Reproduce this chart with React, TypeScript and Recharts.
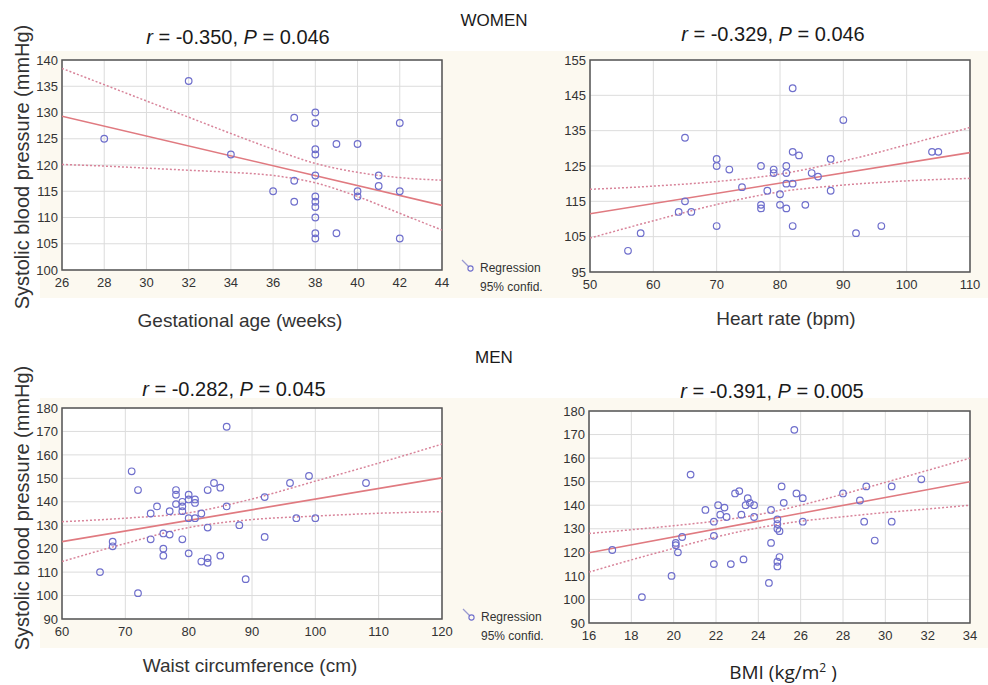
import React from 'react';
import { ComposedChart, Scatter, Line, XAxis, YAxis, CartesianGrid, ReferenceArea } from 'recharts';

// WOMEN – gestational age (weeks) vs SBP
const gaX = [28, 32, 34, 36, 37, 37, 37, 38, 38, 38, 38, 38, 38, 38, 38, 38, 38, 38, 39, 39, 40, 40, 40, 41, 41, 42, 42, 42];
const gaY = [125, 136, 122, 115, 129, 117, 113, 130, 128, 123, 122, 118, 114, 113, 112, 110, 107, 106, 124, 107, 124, 115, 114, 118, 116, 128, 115, 106];
const gaFitX = [26, 44];
const gaFitY = [129.3, 112.3];
const gaBandX = [26, 28, 30, 32, 34, 36, 38, 40, 42, 44];
const gaUpper = [138.4, 135.3, 132.2, 129.1, 126.0, 123.0, 120.3, 118.6, 117.6, 117.1];
const gaLower = [120.1, 119.8, 119.4, 119.0, 118.6, 118.0, 116.6, 114.0, 110.8, 107.6];

// WOMEN – heart rate (bpm) vs SBP
const hrX = [56, 58, 64, 65, 65, 66, 70, 70, 70, 72, 74, 77, 77, 77, 78, 79, 79, 80, 80, 81, 81, 81, 81, 82, 82, 82, 82, 83, 84, 85, 86, 88, 88, 90, 92, 96, 104, 105];
const hrY = [101, 106, 112, 133, 115, 112, 127, 125, 108, 124, 119, 125, 114, 113, 118, 124, 123, 117, 114, 125, 123, 120, 113, 147, 129, 120, 108, 128, 114, 123, 122, 127, 118, 138, 106, 108, 129, 129];
const hrFitX = [50, 110];
const hrFitY = [111.5, 128.8];
const hrBandX = [50, 60, 70, 80, 90, 100, 110];
const hrUpper = [118.4, 119.3, 120.6, 122.7, 126.4, 131.0, 135.9];
const hrLower = [104.6, 109.5, 114.1, 117.7, 119.6, 120.8, 121.5];

// MEN – waist circumference (cm) vs SBP
const wcX = [66, 68, 68, 71, 72, 72, 74, 74, 75, 76, 76, 76, 77, 77, 78, 78, 78, 79, 79, 79, 79, 80, 80, 80, 80, 81, 81, 81, 82, 82, 83, 83, 83, 83, 84, 85, 85, 86, 86, 88, 89, 92, 92, 96, 97, 99, 100, 108];
const wcY = [110, 123, 121, 153, 145, 101, 135, 124, 138, 126.5, 120, 117, 136, 126, 145, 143, 139, 140, 138, 136, 124, 143, 141, 133, 118, 141, 139.5, 133, 135, 114.5, 145, 129, 116, 114, 148, 146, 117, 172, 138, 130, 107, 142, 125, 148, 133, 151, 133, 148];
const wcFitX = [60, 120];
const wcFitY = [123.0, 150.2];
const wcBandX = [60, 70, 80, 90, 100, 110, 120];
const wcUpper = [131.5, 133.0, 135.3, 141.2, 148.8, 156.5, 164.6];
const wcLower = [114.5, 122.2, 129.0, 132.4, 133.9, 135.1, 135.8];

// MEN – BMI (kg/m2) vs SBP
const bmiX = [17.1, 18.5, 19.9, 20.1, 20.1, 20.2, 20.4, 20.8, 21.5, 21.9, 21.9, 21.9, 22.1, 22.2, 22.4, 22.5, 22.7, 22.9, 23.1, 23.2, 23.3, 23.4, 23.5, 23.6, 23.8, 23.8, 24.6, 24.6, 24.5, 24.9, 24.9, 24.9, 25.0, 25.0, 24.9, 24.9, 25.1, 25.2, 25.7, 25.8, 26.1, 26.1, 28.0, 28.8, 29.0, 29.1, 29.5, 30.3, 30.3, 31.7];
const bmiY = [121, 101, 110, 124, 123, 120, 126.5, 153, 138, 133, 127, 115, 140, 136, 139, 135, 115, 145, 146, 136, 117, 140, 143, 141, 140, 135, 138, 124, 107, 134, 132, 130, 129, 118, 116, 114, 148, 141, 172, 145, 143, 133, 145, 142, 133, 148, 125, 148, 133, 151];
const bmiFitX = [16, 34];
const bmiFitY = [119.8, 150.0];
const bmiBandX = [16, 18, 20, 22, 24, 26, 28, 30, 32, 34];
const bmiUpper = [128.0, 129.6, 131.3, 133.3, 136.0, 140.0, 144.7, 149.7, 154.8, 160.0];
const bmiLower = [111.6, 116.8, 121.7, 126.5, 130.4, 133.2, 135.1, 136.9, 138.4, 140.0];

const zip = (xs: number[], ys: number[]) => xs.map((x, i) => ({ x, y: ys[i] }));

const FONT = '"Liberation Sans", Arial, sans-serif';
const DOT = '#6f6fcc';
const FIT = '#e07a80';
const BAND = '#d8849a';
const CREAM = '#fcf9f0';

const tickStyle = { fill: '#333', fontSize: 13, fontFamily: FONT };

const Ring = (props: any) => {
  const { cx, cy } = props;
  if (cx == null || cy == null) return <g />;
  return <circle cx={cx} cy={cy} r={3.3} fill="none" stroke={DOT} strokeWidth={1.2} />;
};

type PanelProps = {
  left: number;
  top: number;
  width: number;
  height: number;
  xs: number[];
  ys: number[];
  fitX: number[];
  fitY: number[];
  bandX: number[];
  upper: number[];
  lower: number[];
  xDomain: [number, number];
  xTicks: number[];
  yDomain: [number, number];
  yTicks: number[];
};

function Panel(p: PanelProps) {
  return (
    <div style={{ position: 'absolute', left: p.left, top: p.top }}>
      <ComposedChart width={p.width + 20} height={p.height} margin={{ top: 10, right: 28, bottom: 0, left: 0 }}>
        <CartesianGrid stroke="#dcdcdc" fill="#fff" />
        <XAxis
          type="number"
          dataKey="x"
          domain={p.xDomain}
          ticks={p.xTicks}
          interval={0}
          allowDataOverflow
          axisLine={false}
          tickLine={false}
          tickSize={4}
          tickMargin={4}
          height={25}
          tick={tickStyle}
        />
        <YAxis
          type="number"
          dataKey="y"
          domain={p.yDomain}
          ticks={p.yTicks}
          interval={0}
          allowDataOverflow
          axisLine={false}
          tickLine={false}
          tickSize={2}
          tickMargin={2}
          width={32}
          tick={tickStyle}
        />
        <Line data={zip(p.bandX, p.upper)} dataKey="y" type="monotone" stroke={BAND} strokeWidth={1.5} strokeDasharray="2 2" dot={false} isAnimationActive={false} />
        <Line data={zip(p.bandX, p.lower)} dataKey="y" type="monotone" stroke={BAND} strokeWidth={1.5} strokeDasharray="2 2" dot={false} isAnimationActive={false} />
        <Line data={zip(p.fitX, p.fitY)} dataKey="y" type="linear" stroke={FIT} strokeWidth={1.6} dot={false} isAnimationActive={false} />
        <Scatter data={zip(p.xs, p.ys)} dataKey="y" shape={Ring} isAnimationActive={false} />
        <ReferenceArea x1={p.xDomain[0]} x2={p.xDomain[1]} y1={p.yDomain[0]} y2={p.yDomain[1]} fill="none" fillOpacity={0} stroke="#555" strokeWidth={1.5} />
      </ComposedChart>
    </div>
  );
}

const Txt = ({ x, y, children, size = 19, rotate = 0, family = FONT, color = '#1a1a1a' }: any) => (
  <div
    style={{
      position: 'absolute',
      left: x,
      top: y,
      transform: `translate(-50%, -50%) rotate(${rotate}deg)`,
      whiteSpace: 'nowrap',
      fontSize: size,
      fontFamily: family,
      color,
      lineHeight: 1,
    }}
  >
    {children}
  </div>
);

const Stat = ({ r, p }: { r: string; p: string }) => (
  <span>
    <i>r</i> = {r}, <i>P</i> = {p}
  </span>
);

const LegendBox = ({ x, y }: { x: number; y: number }) => (
  <div style={{ position: 'absolute', left: x, top: y, fontFamily: FONT, fontSize: 12, color: '#333', lineHeight: '19px' }}>
    <svg width={14} height={14} style={{ position: 'absolute', left: 0, top: 0 }}>
      <line x1={1} y1={1} x2={8} y2={8} stroke="#9a9ad0" strokeWidth={1.3} />
      <circle cx={9.5} cy={9.5} r={2.6} fill="none" stroke={DOT} strokeWidth={1.1} />
    </svg>
    <div style={{ marginLeft: 19 }}>Regression</div>
    <div style={{ marginLeft: 19 }}>95% confid.</div>
  </div>
);

export default function App() {
  return (
    <div style={{ position: 'relative', width: 988, height: 685, background: '#fff', overflow: 'hidden' }}>
      <style>{'body{margin:0}'}</style>
      <div style={{ position: 'absolute', left: 40, top: 51, width: 948, height: 247, background: CREAM }} />
      <div style={{ position: 'absolute', left: 40, top: 398, width: 948, height: 250, background: CREAM }} />

      <Panel left={30} top={50} width={420} height={245}
        xs={gaX} ys={gaY} fitX={gaFitX} fitY={gaFitY} bandX={gaBandX} upper={gaUpper} lower={gaLower}
        xDomain={[26, 44]} xTicks={[26, 28, 30, 32, 34, 36, 38, 40, 42, 44]}
        yDomain={[100, 140]} yTicks={[100, 105, 110, 115, 120, 125, 130, 135, 140]} />
      <Panel left={558} top={50} width={420} height={247}
        xs={hrX} ys={hrY} fitX={hrFitX} fitY={hrFitY} bandX={hrBandX} upper={hrUpper} lower={hrLower}
        xDomain={[50, 110]} xTicks={[50, 60, 70, 80, 90, 100, 110]}
        yDomain={[95, 155]} yTicks={[95, 105, 115, 125, 135, 145, 155]} />
      <Panel left={30} top={398} width={420} height={246}
        xs={wcX} ys={wcY} fitX={wcFitX} fitY={wcFitY} bandX={wcBandX} upper={wcUpper} lower={wcLower}
        xDomain={[60, 120]} xTicks={[60, 70, 80, 90, 100, 110, 120]}
        yDomain={[90, 180]} yTicks={[90, 100, 110, 120, 130, 140, 150, 160, 170, 180]} />
      <Panel left={557} top={401} width={421} height={247}
        xs={bmiX} ys={bmiY} fitX={bmiFitX} fitY={bmiFitY} bandX={bmiBandX} upper={bmiUpper} lower={bmiLower}
        xDomain={[16, 34]} xTicks={[16, 18, 20, 22, 24, 26, 28, 30, 32, 34]}
        yDomain={[90, 180]} yTicks={[90, 100, 110, 120, 130, 140, 150, 160, 170, 180]} />

      <Txt x={494} y={20} size={17}>WOMEN</Txt>
      <Txt x={494} y={357} size={17}>MEN</Txt>

      <Txt x={238} y={37} size={20}><Stat r="-0.350" p="0.046" /></Txt>
      <Txt x={773} y={34} size={20}><Stat r="-0.329" p="0.046" /></Txt>
      <Txt x={234} y={389} size={20}><Stat r="-0.282" p="0.045" /></Txt>
      <Txt x={772} y={391} size={20}><Stat r="-0.391" p="0.005" /></Txt>

      <Txt x={22} y={167} size={20} rotate={-90} color="#333">Systolic blood pressure (mmHg)</Txt>
      <Txt x={22} y={508} size={20} rotate={-90} color="#333">Systolic blood pressure (mmHg)</Txt>

      <Txt x={240} y={320} size={19} color="#333">Gestational age (weeks)</Txt>
      <Txt x={786} y={318} size={19} color="#333">Heart rate (bpm)</Txt>
      <Txt x={250} y={665} size={19} color="#333">Waist circumference (cm)</Txt>
      <Txt x={783} y={672} size={19} family='"Open Sans", "Noto Sans", sans-serif' color="#222">
        BMI (kg/m<span style={{ fontSize: 12, position: 'relative', top: -7 }}>2</span> )
      </Txt>

      <LegendBox x={461} y={259} />
      <LegendBox x={462} y={608} />
    </div>
  );
}
